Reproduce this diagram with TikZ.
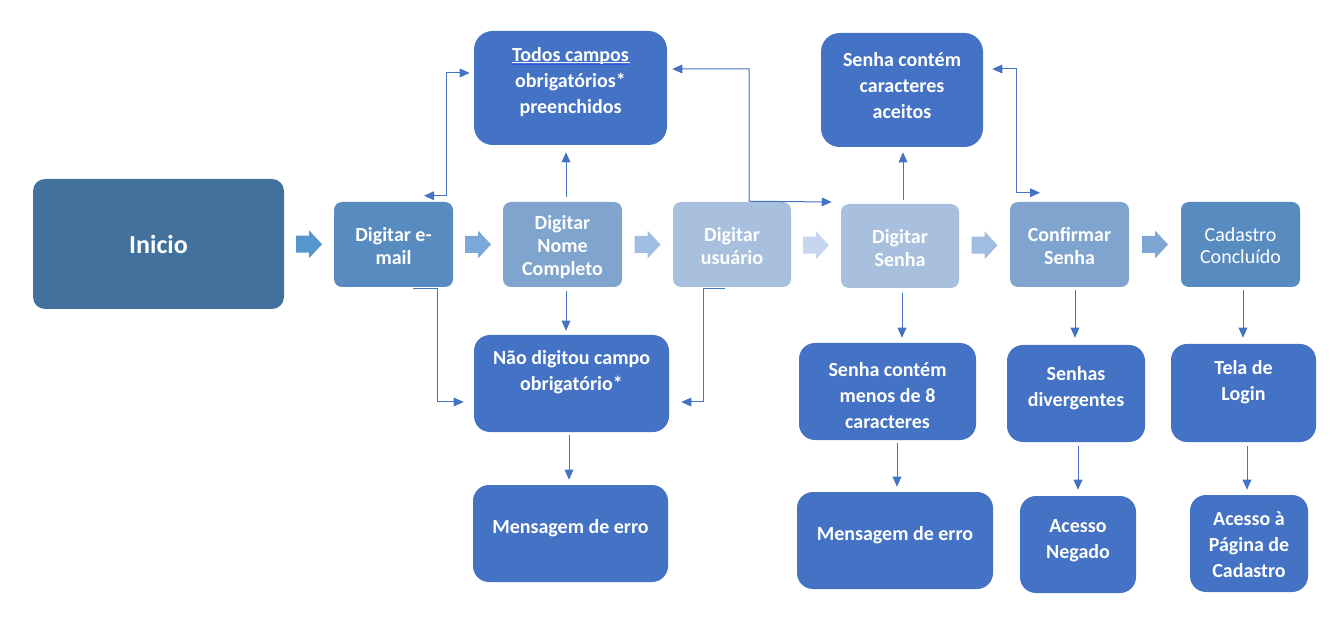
\documentclass[tikz,border=0pt]{standalone}
\usepackage{fontspec}
\setmainfont{Carlito}
\usetikzlibrary{calc,arrows.meta}
\newdimen\pxu \pxu=0.75pt
\definecolor{cInicio}{RGB}{65,113,156}
\definecolor{cDark}{RGB}{88,139,191}
\definecolor{cMid}{RGB}{127,165,207}
\definecolor{cLight}{RGB}{168,191,222}
\definecolor{cBlue}{RGB}{68,114,196}
\definecolor{cLine}{RGB}{68,114,196}
\definecolor{cUnder}{RGB}{40,88,235}
\definecolor{cA1}{RGB}{86,150,206}
\definecolor{cA2}{RGB}{122,168,216}
\definecolor{cA3}{RGB}{160,190,228}
\definecolor{cA4}{RGB}{198,214,238}
\definecolor{cA5}{RGB}{160,190,226}
\definecolor{cA6}{RGB}{126,166,210}
\tikzset{
  sbox/.style={rounded corners=6pt, inner sep=0pt, draw=none, minimum width=119\pxu, minimum height=85\pxu},
  bbox/.style={rounded corners=12pt, inner sep=0pt, draw=none, fill=cBlue},
  btxt/.style={text=white, align=center, inner sep=0pt, font=\fontsize{15}{19.5}\selectfont\bfseries},
  stxt/.style={text=white, align=center, inner sep=0pt, font=\fontsize{15}{17.25}\selectfont\bfseries},
  conn/.style={draw=cLine, line width=0.75pt, -{Triangle[length=7.5pt,width=6.5pt]}},
  conn2/.style={draw=cLine, line width=0.75pt, {Triangle[length=7.5pt,width=6.5pt]}-{Triangle[length=7.5pt,width=6.5pt]}},
  barrow/.pic={\fill[#1] (-13,-8.5) -- (0,-8.5) -- (0,-14) -- (13,0) -- (0,14) -- (0,8.5) -- (-13,8.5) -- cycle;}
}
\begin{document}
\begin{tikzpicture}[x=0.75pt,y=-0.75pt]
\useasboundingbox (0,0) rectangle (1343,620);

% main row
\node[rounded corners=9pt, inner sep=0pt, fill=cInicio, minimum width=251\pxu, minimum height=130\pxu] (inicio) at (158.5,244) {};
\node[text=white, inner sep=0pt, font=\fontsize{19.5}{23}\selectfont\bfseries] (inicio-t) at (inicio) {Inicio};

\node[sbox, fill=cDark] (email) at (393.5,244.5) {};
\node[stxt] (email-t) at ($(email)+(0,1.5)$) {Digitar e-\\mail};

\node[sbox, fill=cMid] (nome) at (562.5,244.5) {};
\node[stxt] (nome-t) at ($(nome)+(0,2.5)$) {Digitar\\Nome\\Completo};

\node[sbox, fill=cLight, minimum width=118\pxu] (usuario) at (732,244.5) {};
\node[stxt] (usuario-t) at ($(usuario)+(0,1.5)$) {Digitar\\usuário};

\node[sbox, fill=cLight, minimum width=118\pxu, minimum height=84\pxu] (senha) at (900,246) {};
\node[stxt] (senha-t) at ($(senha)+(0,2.5)$) {Digitar\\Senha};

\node[sbox, fill=cMid] (confirmar) at (1069.5,244.5) {};
\node[stxt] (confirmar-t) at ($(confirmar)+(0,1.5)$) {Confirmar\\Senha};

\node[sbox, fill=cDark] (cadastro) at (1240.5,244.5) {};
\node[text=white, align=center, inner sep=0pt, font=\fontsize{15}{16.5}\selectfont] (cadastro-t) at ($(cadastro)+(0,1)$) {Cadastro\\Concluído};

% top boxes
\node[bbox, rounded corners=14pt, minimum width=193\pxu, minimum height=114\pxu] (todos) at (570.5,88) {};
\node[btxt] (todos-t) at ($(todos)+(0,-6)$) {Todos campos\\obrigatórios*\\preenchidos};
\draw[white, line width=0.5pt] ([shift={(-58.5,-26)}]todos.center) -- ([shift={(59.5,-26)}]todos.center);
\draw[cUnder, line width=0.8pt] ([shift={(-58.5,-23.5)}]todos.center) -- ([shift={(59.5,-23.5)}]todos.center);

\node[bbox, rounded corners=14pt, minimum width=162\pxu, minimum height=114\pxu] (aceitos) at (902,90) {};
\node[btxt] (aceitos-t) at ($(aceitos)+(0,-4)$) {Senha contém\\caracteres\\aceitos};

% bottom boxes
\node[bbox, minimum width=195\pxu, minimum height=97\pxu] (naodig) at (571.5,383.5) {};
\node[btxt] (naodig-t) at ($(naodig)+(0,-11)$) {Não digitou campo\\obrigatório*};

\node[bbox, minimum width=195\pxu, minimum height=97\pxu] (erro1) at (570.5,533.5) {};
\node[btxt] (erro1-t) at ($(erro1)+(0,-5)$) {Mensagem de erro};

\node[bbox, minimum width=177\pxu, minimum height=97\pxu] (menos8) at (887.5,391.5) {};
\node[btxt] (menos8-t) at ($(menos8)+(0,4)$) {Senha contém\\menos de 8\\caracteres};

\node[bbox, minimum width=196\pxu, minimum height=97\pxu] (erro2) at (895,540.5) {};
\node[btxt] (erro2-t) at ($(erro2)+(0,-5)$) {Mensagem de erro};

\node[bbox, minimum width=138\pxu, minimum height=97\pxu] (diverg) at (1076,393.5) {};
\node[btxt] (diverg-t) at ($(diverg)+(0,-5)$) {Senhas\\divergentes};

\node[bbox, minimum width=116\pxu, minimum height=97\pxu] (negado) at (1078,544.5) {};
\node[btxt] (negado-t) at ($(negado)+(0,-4)$) {Acesso\\Negado};

\node[bbox, minimum width=145\pxu, minimum height=98\pxu] (tela) at (1243.5,393) {};
\node[btxt] (tela-t) at ($(tela)+(0,-11)$) {Tela de\\Login};

\node[bbox, minimum width=118\pxu, minimum height=97\pxu] (acesso) at (1249,543.5) {};
\node[btxt] (acesso-t) at ($(acesso)+(0,1)$) {Acesso à\\Página de\\Cadastro};

% block arrows
\pic at ($(inicio.east)!0.5!(email.west)$) {barrow=cA1};
\pic at ($(email.east)!0.5!(nome.west)$) {barrow=cA2};
\pic at ($(nome.east)!0.5!(usuario.west)$) {barrow=cA3};
\pic at ($(usuario.east)!0.5!(senha.west)$) {barrow=cA4};
\pic at ($(senha.east)!0.5!(confirmar.west)$) {barrow=cA5};
\pic at ($(confirmar.east)!0.5!(cadastro.west)$) {barrow=cA6};

% connectors
\draw[conn2] ([shift={(30.5,-6)}]email.north) -| ([shift={(-27,-15)}]todos.west) -- ([shift={(-4,-15)}]todos.west);
\draw[conn] ([shift={(3.5,-5)}]nome.north) -- ([shift={(-4.5,7)}]todos.south);
\draw[conn2] ([shift={(5,-19)}]todos.east) -| ([shift={(17,-0.5)}]usuario.north) -- ([shift={(-9,-44)}]senha.west);
\draw[conn] ([shift={(3,-4)}]senha.north) -- ([shift={(1,5)}]aceitos.south);
\draw[conn2] ([shift={(9,-21)}]aceitos.east) -| ([shift={(-53.5,-9)}]confirmar.north) -- ([shift={(-29.5,-9)}]confirmar.north);

\draw[conn] ([shift={(19.5,1)}]email.south) -| ([shift={(-36,18.5)}]naodig.west) -- ([shift={(-10,18.5)}]naodig.west);
\draw[conn] ([shift={(3.5,4)}]nome.south) -- ([shift={(-5.5,-4)}]naodig.north);
\draw[conn] ([shift={(-7,1)}]usuario.south) -| ([shift={(34,18.5)}]naodig.east) -- ([shift={(12,18.5)}]naodig.east);
\draw[conn] ([shift={(-2.5,3)}]naodig.south) -- ([shift={(-1.5,-5)}]erro1.north);

\draw[conn] ([shift={(2,5)}]senha.south) -- ([shift={(14.5,-5)}]menos8.north);
\draw[conn] ([shift={(9.5,3)}]menos8.south) -- ([shift={(2,-5)}]erro2.north);
\draw[conn] ([shift={(5.5,3)}]confirmar.south) -- ([shift={(-1,-7)}]diverg.north);
\draw[conn] ([shift={(2,4)}]diverg.south) -- ([shift={(0,-6)}]negado.north);
\draw[conn] ([shift={(2.5,3)}]cadastro.south) -- ([shift={(-0.5,-6)}]tela.north);
\draw[conn] ([shift={(3.5,4)}]tela.south) -- ([shift={(-2,-5)}]acesso.north);
\end{tikzpicture}
\end{document}
